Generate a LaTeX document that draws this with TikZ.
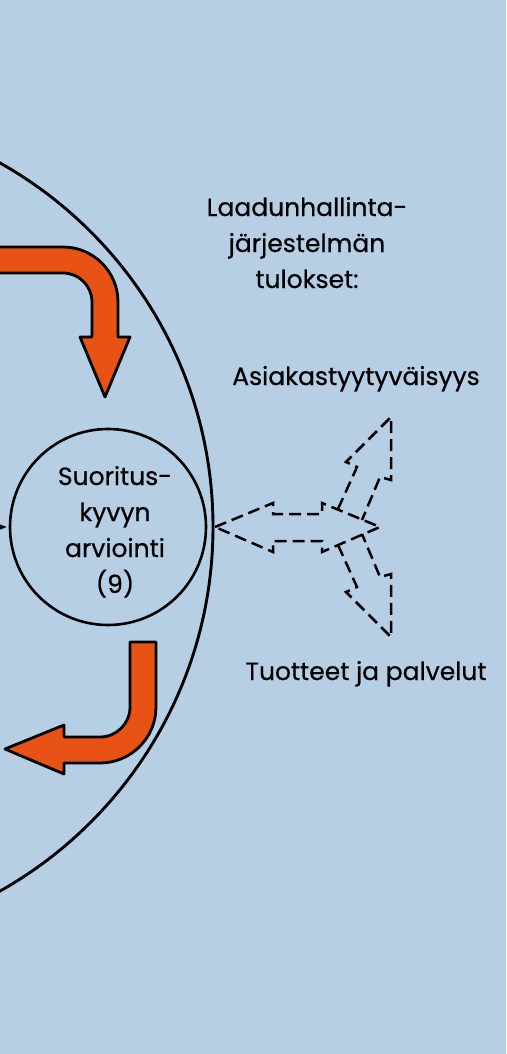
\documentclass[tikz,border=0pt]{standalone}
\usepackage{fontspec}
\usetikzlibrary{calc}
\setmainfont{Poppins}[FakeBold=0.6]
\definecolor{bg}{RGB}{183,207,229}
\definecolor{flow}{RGB}{232,82,20}
\begin{document}
\begin{tikzpicture}[x=1pt,y=1pt,
  ring/.style={draw=black,line width=2.9pt},
  flowarrow/.style={fill=flow,draw=black,line width=2.8pt,line join=round},
  dasharrow/.style={draw=black,line width=2.5pt,dash pattern=on 12pt off 6pt,line join=miter},
  lbl/.style={font=\fontsize{25}{36}\selectfont,align=center,anchor=base,inner sep=0pt}]
\fill[bg] (0,0) rectangle (506,-1054);
\useasboundingbox (0,0) rectangle (506,-1054);
\clip (0,0) rectangle (506,-1054);
% large ring
\node[ring,circle,minimum size=835pt,inner sep=0pt] (ring) at (-204.5,-527) {};
% small circle
\node[draw=black,line width=2.6pt,circle,minimum size=196pt,inner sep=0pt] (perf) at (108,-527) {};
\node[lbl] (perftext) at (115,-593) {Suoritus-\\kyvyn\\arviointi\\(9)};
% small incoming tip at left edge
\coordinate (tipb) at ($(perf.west)+(-2,0)$);
\fill (tipb) -- ++(-9,3.5) -- ++(0,-7) -- cycle;
% top orange arrow
\draw[flowarrow] (-10,-247) -- (63,-247) arc[start angle=90,end angle=0,radius=55]
  -- (118,-337) -- (130,-337) -- (105,-397) -- (80,-337) -- (92,-337) -- (92,-302)
  arc[start angle=0,end angle=90,radius=29] -- (-10,-273) -- cycle;
% bottom orange arrow
\draw[flowarrow] (156,-642) -- (156,-707) arc[start angle=0,end angle=-90,radius=56]
  -- (64,-763) -- (64,-774) -- (5,-749) -- (64,-725) -- (64,-737) -- (100,-737)
  arc[start angle=-90,end angle=0,radius=30] -- (130,-642) -- cycle;
% dashed double arrow
\coordinate (lt) at (215,-527);
\coordinate (rt) at (380,-527);
\draw[dasharrow] (lt) -- (273,-503) -- (273,-514) -- (322,-514) -- (322,-503) -- (rt)
  -- (322,-552) -- (322,-541) -- (273,-541) -- (273,-552) -- cycle;
% dashed branch up
\draw[dasharrow] (338,-509) -- (357,-467) -- (346,-462) -- (391,-417) -- (391,-480) -- (380,-477) -- (362,-520);
% dashed branch down
\draw[dasharrow] (338,-545) -- (357,-587) -- (346,-592) -- (391,-637) -- (391,-574) -- (380,-577) -- (362,-534);
% labels
\node[lbl] (title) at (307,-288) {Laadunhallinta-\\järjestelmän\\tulokset:};
\node[lbl] (cust) at (356,-385) {Asiakastyytyväisyys};
\node[lbl] (prod) at (366,-680) {Tuotteet ja palvelut};
\end{tikzpicture}
\end{document}
